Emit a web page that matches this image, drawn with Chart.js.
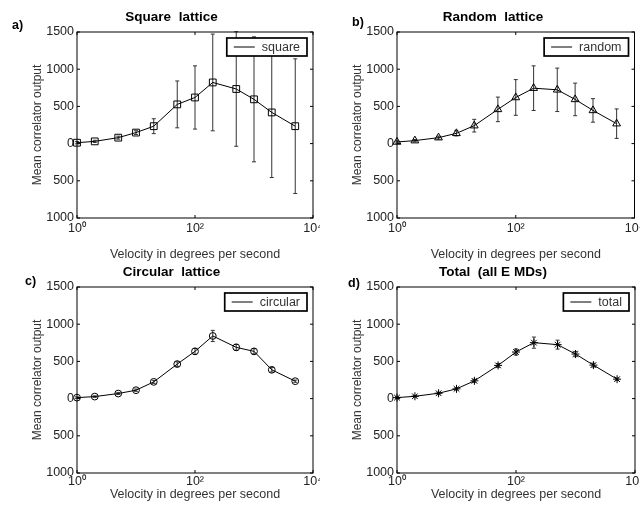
<!DOCTYPE html>
<html>
<head>
<meta charset="utf-8">
<script src="https://cdn.jsdelivr.net/npm/chart.js@4"></script>
<style>
  body { margin: 0; background: #fff; }
  #wrap { position: relative; width: 640px; height: 510px; overflow: hidden; }
  canvas { position: absolute; }
</style>
</head>
<body>
<div id="wrap">
  <canvas id="chart-a" width="320" height="264" style="left:0;top:0"></canvas>
  <canvas id="chart-b" width="320" height="264" style="left:320px;top:0"></canvas>
  <canvas id="chart-c" width="320" height="255" style="left:0;top:255px"></canvas>
  <canvas id="chart-d" width="320" height="255" style="left:320px;top:255px"></canvas>
</div>
<script>
const velocity = [1, 2, 5, 10, 20, 50, 100, 200, 500, 1000, 2000, 5000];

const squareMean = [12, 30, 80, 148, 234, 527, 620, 822, 734, 595, 419, 234];
const squareErr = [15, 15, 20, 25, 100, 315, 425, 650, 770, 840, 875, 905];

const randomMean = [22, 40, 80, 138, 241, 460, 620, 745, 723, 594, 446, 268];
const randomErr = [15, 15, 20, 35, 85, 165, 240, 300, 292, 219, 158, 198];

const circularMean = [13, 27, 68, 113, 225, 464, 635, 842, 689, 635, 387, 234];
const circularErr = [10, 10, 12, 15, 20, 30, 40, 75, 40, 35, 30, 15];

const totalMean = [13, 31, 72, 131, 239, 446, 626, 752, 725, 599, 450, 261];
const totalErr = [10, 10, 12, 15, 20, 25, 40, 75, 60, 35, 25, 15];

const yTicks = [-1000, -500, 0, 500, 1000, 1500];
const xTicks = [1, 100, 10000];
const xTickLabels = ["10\u2070", "10\u00b2", "10\u2074"];

const FONT = "'Liberation Sans', Arial, Helvetica, sans-serif";

// box round the axes, inward ticks, panel letter and a MATLAB style legend
const framePlugin = {
  id: "frame",
  afterDatasetsDraw(chart, args, opts) {
    const { ctx, chartArea: a, scales } = chart;
    ctx.save();
    ctx.strokeStyle = "#000";
    ctx.lineWidth = 1;
    ctx.strokeRect(a.left, a.top, a.right - a.left, a.bottom - a.top);

    ctx.beginPath();
    scales.x.ticks.forEach((t) => {
      const px = scales.x.getPixelForValue(t.value);
      ctx.moveTo(px, a.bottom);
      ctx.lineTo(px, a.bottom - 3);
      ctx.moveTo(px, a.top);
      ctx.lineTo(px, a.top + 3);
    });
    scales.y.ticks.forEach((t) => {
      const py = scales.y.getPixelForValue(t.value);
      ctx.moveTo(a.left, py);
      ctx.lineTo(a.left + 3, py);
      ctx.moveTo(a.right, py);
      ctx.lineTo(a.right - 3, py);
    });
    ctx.stroke();

    ctx.fillStyle = "#000";
    ctx.font = "bold 12.5px " + FONT;
    ctx.textBaseline = "middle";
    ctx.textAlign = "left";
    ctx.fillText(opts.letter, opts.lx, opts.ly);

    const label = chart.data.datasets[0].label;
    ctx.font = "12.5px " + FONT;
    const w = 35 + ctx.measureText(label).width + 7;
    const h = 18;
    const x = a.right - 6 - w;
    const y = a.top + 6;
    ctx.fillStyle = "#fff";
    ctx.fillRect(x, y, w, h);
    ctx.lineWidth = 1.7;
    ctx.strokeRect(x, y, w, h);
    ctx.lineWidth = 1;
    ctx.beginPath();
    ctx.moveTo(x + 7, y + h / 2);
    ctx.lineTo(x + 28, y + h / 2);
    ctx.stroke();
    ctx.fillStyle = "#333";
    ctx.fillText(label, x + 35, y + h / 2 + 0.5);
    ctx.restore();
  },
};

function errorPoints(mean, err) {
  const pts = [];
  velocity.forEach((v, i) => {
    pts.push({ x: v, y: mean[i] - err[i] });
    pts.push({ x: v, y: mean[i] + err[i] });
    pts.push({ x: v, y: null });
  });
  return pts;
}

function makePanel(id, cfg) {
  new Chart(document.getElementById(id), {
    type: "line",
    data: {
      datasets: [
        {
          label: cfg.label,
          data: velocity.map((v, i) => ({ x: v, y: cfg.mean[i] })),
          clip: false,
          borderColor: "#000",
          borderWidth: 1,
          tension: 0,
          pointStyle: cfg.marker,
          pointRadius: cfg.radius,
          pointBorderColor: "#000",
          pointBackgroundColor: "rgba(0,0,0,0)",
          pointBorderWidth: 1,
        },
        {
          label: "error",
          data: errorPoints(cfg.mean, cfg.err),
          clip: false,
          borderColor: "#333",
          borderWidth: 1,
          spanGaps: false,
          pointStyle: "line",
          pointRadius: 2,
          pointBorderColor: "#333",
          pointBorderWidth: 1,
        },
      ],
    },
    options: {
      responsive: false,
      animation: false,
      events: [],
      layout: { padding: { left: 30, right: cfg.padRight, top: 0, bottom: 0 } },
      scales: {
        x: {
          type: "logarithmic",
          min: 1,
          max: 10000,
          grid: { display: false, drawTicks: false },
          border: { display: false },
          afterBuildTicks: (s) => {
            s.ticks = xTicks.map((v) => ({ value: v }));
          },
          ticks: {
            autoSkip: false,
            maxRotation: 0,
            padding: cfg.xTickPad,
            color: "#222",
            font: { family: FONT, size: 12.5 },
            callback: (v, i) => xTickLabels[i],
          },
          title: {
            display: true,
            text: "Velocity in degrees per second",
            color: "#333",
            font: { family: FONT, size: 12.5 },
            padding: { top: cfg.xTitlePad, bottom: cfg.xTitlePad },
          },
          afterFit: (s) => {
            s.height = cfg.xHeight;
            s.paddingLeft = 0;
            s.paddingRight = 0;
          },
        },
        y: {
          min: -1000,
          max: 1500,
          grid: { display: false, drawTicks: false },
          border: { display: false },
          afterBuildTicks: (s) => {
            s.ticks = yTicks.map((v) => ({ value: v }));
          },
          ticks: {
            padding: 3,
            color: "#222",
            font: { family: FONT, size: 12.5 },
            callback: (v) => String(Math.abs(v)),
          },
          title: {
            display: true,
            text: "Mean correlator output",
            color: "#333",
            font: { family: FONT, size: 12 },
            padding: 0,
          },
          afterFit: (s) => {
            s.width = 47;
            s.paddingTop = 0;
            s.paddingBottom = 0;
          },
        },
      },
      plugins: {
        legend: { display: false },
        tooltip: { enabled: false },
        title: {
          display: true,
          text: cfg.title,
          color: "#000",
          font: { family: FONT, size: 13.5, weight: "bold" },
          padding: { top: 9, bottom: 6.8 },
        },
        frame: { letter: cfg.letter, lx: cfg.lx, ly: cfg.ly },
      },
    },
    plugins: [framePlugin],
  });
}

makePanel("chart-a", {
  title: "Square  lattice", label: "square", letter: "a)", lx: 12, ly: 26,
  mean: squareMean, err: squareErr, marker: "rect", radius: 4.8,
  padRight: 7, xHeight: 46, xTickPad: 3, xTitlePad: 1.5,
});
makePanel("chart-b", {
  title: "Random  lattice", label: "random", letter: "b)", lx: 32, ly: 23,
  mean: randomMean, err: randomErr, marker: "triangle", radius: 4.5,
  padRight: 4, xHeight: 46, xTickPad: 3, xTitlePad: 1.5,
});
makePanel("chart-c", {
  title: "Circular  lattice", label: "circular", letter: "c)", lx: 25, ly: 27,
  mean: circularMean, err: circularErr, marker: "circle", radius: 3.4,
  padRight: 7, xHeight: 37, xTickPad: 1, xTitlePad: 8,
});
makePanel("chart-d", {
  title: "Total  (all E MDs)", label: "total", letter: "d)", lx: 28, ly: 29,
  mean: totalMean, err: totalErr, marker: "star", radius: 4,
  padRight: 4, xHeight: 37, xTickPad: 1, xTitlePad: 8,
});
</script>
</body>
</html>
